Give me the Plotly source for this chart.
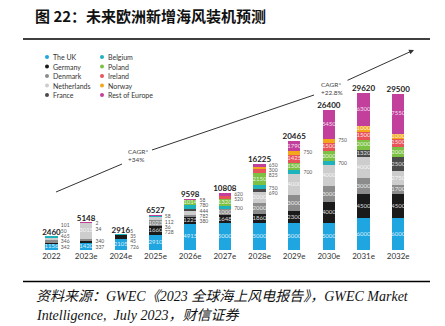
import plotly.graph_objects as go

years = ["2022", "2023e", "2024e", "2025e", "2026e", "2027e", "2028e", "2029e", "2030e", "2031e", "2032e"]
totals = [2460, 5148, 2916, 6527, 9598, 10808, 16225, 20465, 26400, 29620, 29500]

uk          = [1156, 1420, 2105, 2910, 4915, 5000, 5000, 5000, 5000, 6000, 6000]
germany     = [342, 337, 726, 1660, 1225, 1648, 1860, 2300, 4000, 4500, 4500]
denmark     = [346, 340, 0, 1023, 380, 1000, 2000, 3000, 3000, 3000, 1700]
netherlands = [465, 3015, 45, 728, 782, 0, 2000, 4000, 4000, 4000, 2750]
france      = [50, 34, 35, 36, 444, 0, 690, 0, 0, 1320, 2500]
belgium     = [101, 0, 5, 112, 780, 700, 750, 700, 700, 0, 0]
poland      = [0, 0, 0, 0, 1014, 1320, 2150, 1500, 2000, 2000, 2000]
ireland     = [0, 0, 0, 0, 0, 520, 825, 1425, 1500, 1500, 1500]
norway      = [0, 0, 0, 0, 0, 0, 300, 750, 750, 1000, 1000]
rest        = [0, 2, 0, 58, 58, 620, 650, 1790, 5450, 6300, 7550]

series_names = ["The UK", "Germany", "Denmark", "Netherlands", "France",
                "Belgium", "Poland", "Ireland", "Norway", "Rest of Europe"]
series_vals = [uk, germany, denmark, netherlands, france,
               belgium, poland, ireland, norway, rest]
colors = ["#1fa6e0", "#1a1a1a", "#8c8c8c", "#cdcdcd", "#4a4a4a",
          "#1db3bd", "#7cc143", "#e8545a", "#f3a81c", "#c2409c"]

cagr_texts = ["CAGR*<br>+34%", "CAGR*<br>+22.8%"]
title_text = "图 22：未来欧洲新增海风装机预测"
source_l1 = "资料来源：GWEC《2023 全球海上风电报告》，GWEC Market"
source_l2 = "Intelligence,  July 2023，财信证券"

W, H = 445, 326
ML, MR, MT, MB = 22, 26, 40, 76
PW, PH = W - ML - MR, H - MT - MB
YMAX = 39600
KPX = PH / YMAX  # px per unit


def pxx(x):
    return (x - ML) / PW


def pxy(y):
    return (H - MB - y) / PH


xs = list(range(len(years)))
fig = go.Figure()

for name, vals, col in zip(series_names, series_vals, colors):
    fig.add_trace(go.Bar(x=xs, y=vals, name=name, marker=dict(color=col, line=dict(width=0)),
                         width=0.36, showlegend=False, hoverinfo="skip"))

# segment labels
in_x, in_y, in_t = [], [], []
side_x, side_y, side_t = [], [], []
for i in xs:
    base = 0
    smalls = []
    for vals in series_vals:
        v = vals[i]
        if v > 0:
            mid = base + v / 2
            if v >= 900:
                in_x.append(i); in_y.append(mid); in_t.append(str(v))
            else:
                smalls.append([mid, v])
        base += v
    if smalls:
        gap = 5.3 / KPX
        ys = [s[0] for s in smalls]
        for _ in range(400):
            moved = False
            for j in range(len(ys) - 1):
                d = ys[j + 1] - ys[j]
                if d < gap - 1e-6:
                    s = (gap - d) / 2
                    ys[j] -= s
                    ys[j + 1] += s
                    moved = True
            top_lim = totals[i] - 0.3 * gap
            if ys[-1] > top_lim:
                sh = ys[-1] - top_lim
                ys = [y - sh for y in ys]
            floor = 0.5 * gap
            if ys[0] < floor:
                sh = floor - ys[0]
                ys = [y + sh for y in ys]
            if not moved:
                break
        for y, s in zip(ys, smalls):
            side_x.append(i + 0.27); side_y.append(y); side_t.append(str(s[1]))

fig.add_trace(go.Scatter(x=in_x, y=in_y, text=in_t, mode="text", showlegend=False, hoverinfo="skip",
                         textfont=dict(size=6, color="rgba(255,255,255,0.85)", family="Lato")))
fig.add_trace(go.Scatter(x=side_x, y=side_y, text=side_t, mode="text", textposition="middle right",
                         showlegend=False, hoverinfo="skip",
                         textfont=dict(size=5, color="#555555", family="Lato")))
fig.add_trace(go.Scatter(x=xs, y=totals, text=[str(t) for t in totals], mode="text",
                         textposition="top center", showlegend=False, hoverinfo="skip",
                         textfont=dict(size=8, color="#222222", family="Lato", weight="bold")))

shapes = []
annotations = []

# title and rules
annotations.append(dict(x=pxx(33), y=pxy(16), xref="paper", yref="paper", xanchor="left", yanchor="middle",
                        text=title_text, showarrow=False,
                        font=dict(size=15, color="#111111", family="Noto Sans CJK SC", weight="bold")))
shapes.append(dict(type="line", xref="paper", yref="paper", x0=pxx(23), x1=pxx(430), y0=pxy(39), y1=pxy(39),
                   line=dict(color="#000000", width=1.5)))
shapes.append(dict(type="line", xref="paper", yref="paper", x0=pxx(23), x1=pxx(430), y0=pxy(281.5), y1=pxy(281.5),
                   line=dict(color="#000000", width=1.5)))
annotations.append(dict(x=pxx(34), y=pxy(296), xref="paper", yref="paper", xanchor="left", yanchor="middle",
                        text=source_l1, showarrow=False,
                        font=dict(size=14, color="#111111", family="Liberation Serif, Noto Sans CJK SC", style="italic")))
annotations.append(dict(x=pxx(34), y=pxy(315), xref="paper", yref="paper", xanchor="left", yanchor="middle",
                        text=source_l2, showarrow=False,
                        font=dict(size=14, color="#111111", family="Liberation Serif, Noto Sans CJK SC", style="italic")))

# legend
leg_rows = [57, 66.5, 76, 85.5, 95]
for k, (name, col) in enumerate(zip(series_names, colors)):
    colx = 47 if k < 5 else 102
    rowy = leg_rows[k % 5]
    shapes.append(dict(type="circle", xref="paper", yref="paper", xsizemode="pixel", ysizemode="pixel",
                       xanchor=pxx(colx), yanchor=pxy(rowy), x0=-2, x1=2, y0=-2, y1=2,
                       fillcolor=col, line=dict(width=0)))
    annotations.append(dict(x=pxx(colx + 4), y=pxy(rowy), xref="paper", yref="paper", xanchor="left",
                            yanchor="middle", text=name, showarrow=False,
                            font=dict(size=7, color="#333333", family="Lato")))

# CAGR lines
segs = [((56, 192), (122, 164)), ((152, 150), (314, 95))]
for (a, b) in segs:
    shapes.append(dict(type="line", xref="paper", yref="paper", x0=pxx(a[0]), y0=pxy(a[1]),
                       x1=pxx(b[0]), y1=pxy(b[1]), line=dict(color="#333333", width=1)))
annotations.append(dict(x=pxx(414), y=pxy(50), xref="paper", yref="paper", ax=-68, ay=31, text="",
                        showarrow=True, arrowhead=2, arrowsize=1, arrowwidth=1, arrowcolor="#333333"))
annotations.append(dict(x=pxx(126), y=pxy(155), xref="paper", yref="paper", xanchor="left", yanchor="middle",
                        text=cagr_texts[0], showarrow=False, align="left",
                        font=dict(size=6.5, color="#444444", family="Lato")))
annotations.append(dict(x=pxx(319), y=pxy(88), xref="paper", yref="paper", xanchor="left", yanchor="middle",
                        text=cagr_texts[1], showarrow=False, align="left",
                        font=dict(size=6.5, color="#444444", family="Lato")))

fig.update_layout(
    width=W, height=H, barmode="stack", bargap=0,
    margin=dict(l=ML, r=MR, t=MT, b=MB, pad=0),
    paper_bgcolor="white", plot_bgcolor="white",
    shapes=shapes, annotations=annotations, showlegend=False,
    xaxis=dict(range=[-0.85, 10.6], tickvals=xs, ticktext=years, showgrid=False, zeroline=False,
               showline=False, ticks="", tickfont=dict(size=8, color="#333333", family="Lato"),
               fixedrange=True),
    yaxis=dict(range=[0, YMAX], visible=False, fixedrange=True),
)

fig.write_html("out.html")
